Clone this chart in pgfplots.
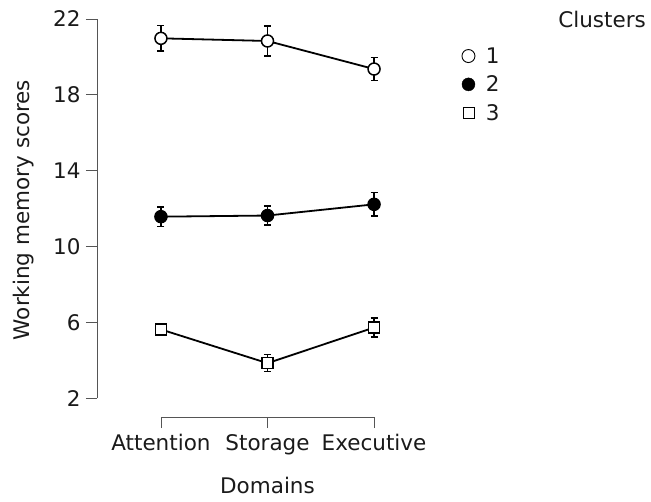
\documentclass[border=0pt]{standalone}
\usepackage{fontspec}
\setmainfont{DejaVu Sans}
\usepackage{pgfplots}
\pgfplotsset{compat=1.18}
\definecolor{axgray}{HTML}{555555}
\definecolor{txt}{HTML}{1A1A1A}
\newcommand{\bigf}{\fontsize{21.5}{25}\selectfont}
\begin{document}
\begin{tikzpicture}
\useasboundingbox (-97pt,-84pt) rectangle (554pt,417pt);
\begin{axis}[
  scale only axis,
  width=341pt, height=398pt,
  xmin=-0.6, xmax=2.6,
  ymin=1, ymax=22,
  clip=false,
  axis x line*=bottom, axis y line*=left,
  axis line style={draw=none},
  tick align=outside,
  major tick length=11pt,
  tick style={axgray, line width=0.8pt},
  xtick={0,1,2},
  xticklabels={Attention,Storage,Executive},
  ytick={2,6,10,14,18,22},
  /pgf/number format/assume math mode=true,
  ticklabel style={font=\bigf, text=txt},
  yticklabel style={xshift=-2pt},
  xticklabel style={yshift=-3pt},
  xlabel={Domains},
  ylabel={Working memory scores},
  xlabel style={font=\bigf, text=txt, at={(axis cs:1,1)}, anchor=center, yshift=-68pt},
  ylabel style={font=\bigf, text=txt, at={(rel axis cs:0,0.52)}, anchor=center, yshift=73pt},
  legend style={draw=none, fill=none, at={(axis cs:2.795,20.72)}, anchor=north west,
    font=\bigf, text=txt, row sep=7pt,
    /tikz/every odd column/.append style={column sep=9pt}},
  legend cell align=left,
  error bars/y dir=both, error bars/y explicit,
  error bars/error bar style={line width=1.5pt, black},
  error bars/error mark options={rotate=90, mark size=3.5pt, line width=1.5pt, black},
]
\draw[axgray, line width=0.8pt] (axis cs:-0.6,2) -- (axis cs:-0.6,22);
\draw[axgray, line width=0.8pt] (axis cs:0,1) -- (axis cs:2,1);

% cluster 1
\addplot[black, line width=1.8pt, mark=*, mark size=6pt,
  mark options={fill=white, line width=1.5pt}, forget plot]
  coordinates {(0,20.98) +- (0,0.67) (1,20.84) +- (0,0.8) (2,19.36) +- (0,0.6)};
% cluster 2
\addplot[black, line width=1.8pt, mark=*, mark size=6pt,
  mark options={fill=black, line width=1.5pt}, forget plot]
  coordinates {(0,11.57) +- (0,0.52) (1,11.63) +- (0,0.5) (2,12.22) +- (0,0.62)};
% cluster 3
\addplot[black, line width=1.8pt, mark=square*, mark size=5.5pt,
  mark options={fill=white, line width=1.5pt}, forget plot]
  coordinates {(0,5.62) +- (0,0.3) (1,3.84) +- (0,0.45) (2,5.72) +- (0,0.5)};

\addlegendimage{only marks, mark=*, mark size=6.5pt, mark options={fill=white, draw=black, line width=0.9pt}}
\addlegendentry{1}
\addlegendimage{only marks, mark=*, mark size=6.5pt, mark options={fill=black, draw=black}}
\addlegendentry{2}
\addlegendimage{only marks, mark=square*, mark size=5.5pt, mark options={fill=white, draw=black, line width=0.9pt}}
\addlegendentry{3}

\node[font=\bigf, text=txt] at (axis cs:4.14,21.95) {Clusters};
\end{axis}
\end{tikzpicture}
\end{document}
